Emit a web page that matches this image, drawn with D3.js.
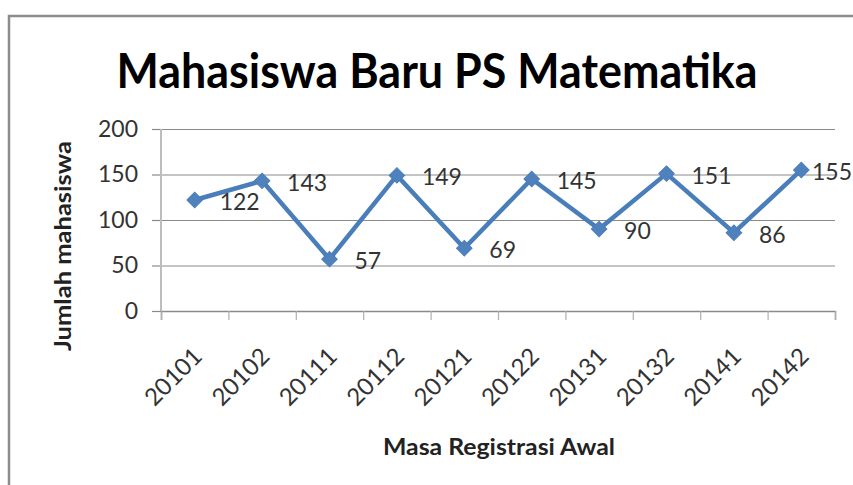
<!DOCTYPE html>
<html>
<head>
<meta charset="utf-8">
<script src="https://cdn.jsdelivr.net/npm/d3@7/dist/d3.min.js"></script>
<style>
  body { margin: 0; background: #fff; }
  svg { display: block; }
  text { font-family: Lato, "Open Sans", sans-serif; }
</style>
</head>
<body>
<svg width="853" height="485"></svg>
<script>
document.addEventListener("DOMContentLoaded", function () {

  // data
  var periods = ["20101", "20102", "20111", "20112", "20121", "20122", "20131", "20132", "20141", "20142"];
  var students = [122, 143, 57, 149, 69, 145, 90, 151, 86, 155];
  var yTicks = [0, 50, 100, 150, 200];

  var chartTitle = "Mahasiswa Baru PS Matematika";
  var xTitle = "Masa Registrasi Awal";
  var yTitle = "Jumlah mahasiswa";

  var svg = d3.select("svg");
  var left = 161, right = 835, top = 129, bottom = 311;

  // chart border
  svg.append("rect")
    .attr("x", 9)
    .attr("y", 16)
    .attr("width", 900)
    .attr("height", 520)
    .style("fill", "#fff")
    .style("stroke", "#8c8c8c")
    .style("stroke-width", 2.5);

  svg.append("text")
    .attr("x", 437)
    .attr("y", 88)
    .attr("text-anchor", "middle")
    .attr("textLength", 641)
    .attr("lengthAdjust", "spacingAndGlyphs")
    .style("font-size", "48px")
    .style("font-weight", "bold")
    .style("fill", "#000")
    .text(chartTitle);

  var xScale = d3.scaleBand()
    .domain(periods)
    .range([left, right]);

  var edgeScale = d3.scaleLinear()
    .domain([0, periods.length])
    .range([left, right]);

  var yScale = d3.scaleLinear()
    .domain([0, 200])
    .range([bottom, top]);

  // gridlines
  svg.append("g")
    .attr("class", "grid")
    .attr("transform", "translate(" + left + ",0)")
    .call(d3.axisLeft(yScale).tickValues(yTicks).tickSize(-(right - left)).tickFormat(""))
    .call(function (g) {
      g.select(".domain").remove();
      g.selectAll("line").style("stroke", "#8a8a8a").style("stroke-width", 1.2);
    });

  // y axis
  svg.append("g")
    .attr("transform", "translate(" + left + ",0)")
    .call(d3.axisLeft(yScale).tickValues(yTicks).tickSize(9).tickPadding(14))
    .call(function (g) {
      g.select(".domain").remove();
      g.selectAll("line").style("stroke", "#8a8a8a").style("stroke-width", 1.2);
      g.selectAll("text")
        .style("font-family", "Lato, sans-serif")
        .style("font-size", "23px")
        .style("fill", "#333");
    });

  svg.append("line")
    .attr("x1", left).attr("x2", left)
    .attr("y1", top).attr("y2", bottom)
    .style("stroke", "#bdbdbd")
    .style("stroke-width", 2);

  // x axis: ticks on category edges
  svg.append("g")
    .attr("transform", "translate(0," + bottom + ")")
    .call(d3.axisBottom(edgeScale).ticks(periods.length).tickSize(9).tickFormat(""))
    .call(function (g) {
      g.select(".domain").style("stroke", "#8a8a8a").style("stroke-width", 1.5);
      g.selectAll("line").style("stroke", "#b0b0b0").style("stroke-width", 1.2);
    });

  // x tick labels, rotated
  svg.append("g").selectAll("text.xlabel")
    .data(periods)
    .enter()
    .append("text")
    .attr("class", "xlabel")
    .attr("text-anchor", "end")
    .attr("transform", function (d) {
      return "translate(" + (xScale(d) + xScale.bandwidth() / 2 + 9) + "," + (bottom + 47) + ") rotate(-45)";
    })
    .style("font-size", "24px")
    .style("fill", "#333")
    .text(function (d) { return d; });

  // axis titles
  svg.append("text")
    .attr("x", 499)
    .attr("y", 455)
    .attr("text-anchor", "middle")
    .attr("textLength", 232)
    .attr("lengthAdjust", "spacingAndGlyphs")
    .style("font-size", "23px")
    .style("font-weight", "bold")
    .style("fill", "#222")
    .text(xTitle);

  svg.append("text")
    .attr("transform", "translate(71,246) rotate(-90)")
    .attr("text-anchor", "middle")
    .attr("textLength", 210)
    .attr("lengthAdjust", "spacingAndGlyphs")
    .style("font-size", "23px")
    .style("font-weight", "bold")
    .style("fill", "#222")
    .text(yTitle);

  var points = periods.map(function (p, i) {
    return { period: p, value: students[i] };
  });

  var line = d3.line()
    .x(function (d) { return xScale(d.period) + xScale.bandwidth() / 2; })
    .y(function (d) { return yScale(d.value); });

  svg.append("path")
    .datum(points)
    .attr("d", line)
    .style("fill", "none")
    .style("stroke", "#4a7ebb")
    .style("stroke-width", 4.5)
    .style("stroke-linejoin", "miter");

  svg.append("g").selectAll("path.marker")
    .data(points)
    .enter()
    .append("path")
    .attr("class", "marker")
    .attr("d", d3.symbol().type(d3.symbolSquare).size(120))
    .attr("transform", function (d) {
      return "translate(" + (xScale(d.period) + xScale.bandwidth() / 2) + "," + yScale(d.value) + ") rotate(45)";
    })
    .style("fill", "#4f81bd")
    .style("stroke", "#4a7ebb")
    .style("stroke-width", 1);

  // data labels, right of each point, kept inside the picture
  svg.append("g").selectAll("text.dlabel")
    .data(points)
    .enter()
    .append("text")
    .attr("class", "dlabel")
    .attr("y", function (d) { return yScale(d.value) + 2; })
    .attr("dy", "0.35em")
    .style("font-size", "23px")
    .style("fill", "#333")
    .text(function (d) { return d.value; })
    .attr("x", function (d) {
      var w = this.getComputedTextLength();
      var px = xScale(d.period) + xScale.bandwidth() / 2;
      return Math.min(px + 25, 852 - w);
    });

});
</script>
</body>
</html>
